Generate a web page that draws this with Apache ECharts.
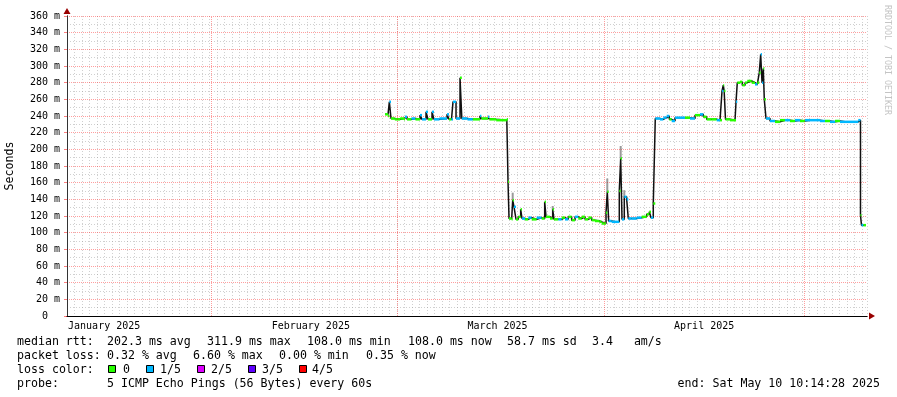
<!DOCTYPE html>
<html>
<head>
<meta charset="utf-8">
<script src="https://cdn.jsdelivr.net/npm/echarts@6/dist/echarts.min.js"></script>
<style>
  html, body { margin: 0; padding: 0; background: #fff; }
  #chart { width: 897px; height: 397px; }
</style>
</head>
<body>
<div id="chart"></div>
<script>
// x values are days since 2025-01-01 00:00 (graph spans 120 days, ends May 10 10:14)
const startDay = 9.427;
const endDay = 129.427;

const monthStarts = [31, 59, 90, 120];
const monthLabelDays = [15, 46, 74, 105];
const monthNames = ['January 2025', 'February 2025', 'March 2025', 'April 2025'];

// median rtt (ms) and loss bucket (0 = none, 1 = 1/5) per sample
const day = [
  57.13, 57.58, 57.78, 58.03, 58.60, 59.40, 59.98, 60.13, 60.43, 61.10,
  61.70, 62.38, 62.68, 63.28, 63.58, 64.18, 64.48, 65.30, 66.43, 66.73,
  67.10, 67.33, 67.78, 68.38, 68.65, 69.50, 70.30, 71.38, 71.58, 72.58,
  72.78, 73.80, 75.40, 75.58, 75.73,
  76.13, 76.28, 76.48, 76.78, 77.12, 77.48, 77.68, 78.13, 78.62, 79.13,
  79.88, 80.63, 81.08, 81.28, 81.88, 82.28, 82.48, 83.12, 83.63, 84.13,
  84.62, 85.13, 85.63, 86.12, 86.63, 87.13, 87.62, 88.13, 88.63, 89.27,
  89.63, 90.28, 90.47, 90.68, 91.13, 91.63, 92.27, 92.48, 92.68, 93.02,
  93.38, 93.62, 94.13, 94.88, 95.63, 96.38, 96.77, 97.03, 97.37,
  97.67, 98.38, 98.87, 99.38, 99.77, 100.13, 100.63, 101.38, 102.13, 102.88,
  103.63, 104.38, 104.87, 105.38, 106.13, 106.88, 107.38, 107.68, 107.87, 108.00,
  108.20, 108.88, 109.63, 109.78, 109.97, 110.38, 110.72, 111.13, 111.47, 112.13,
  112.63, 112.97, 113.27, 113.48, 113.68, 113.87, 114.02, 114.28, 114.88, 115.63,
  116.38, 117.13, 117.88, 118.63, 119.38, 120.13, 120.88, 121.63, 122.38, 123.13,
  123.88, 124.63, 125.38, 126.13, 126.88, 127.63, 128.12, 128.45, 128.60, 128.90,
  129.28
];
const median = [
  242, 240, 257, 237, 236, 237, 236, 239, 236, 237,
  236, 241, 236, 245, 236, 245, 236, 237, 242, 236,
  236, 257, 237, 286, 237, 236, 236, 240, 237, 239,
  236, 235, 236, 161, 117,
  116, 139, 131, 116, 119, 128, 117, 116, 118, 116,
  118, 117, 137, 119, 117, 128, 116, 116, 118, 116,
  119, 115, 119, 117, 119, 116, 118, 115, 114, 113,
  111, 124, 149, 114, 113, 113, 150, 189, 116, 143,
  140, 117, 117, 118, 119, 122, 125, 118, 135,
  237, 236, 238, 240, 236, 234, 238, 238, 238, 237,
  241, 242, 239, 236, 236, 235, 235, 270, 277, 270,
  236, 235, 235, 257, 280, 281, 277, 280, 282, 280,
  278, 280, 292, 314, 280, 297, 260, 237, 234, 233,
  235, 235, 234, 235, 234, 235, 235, 235, 234, 234,
  233, 234, 233, 233, 233, 233, 235, 121, 109, 109,
  109
];
const loss = [
  0, 0, 1, 0, 0, 0, 0, 1, 0, 1,
  0, 1, 1, 1, 0, 1, 1, 1, 1, 0,
  1, 1, 1, 0, 1, 1, 0, 1, 0, 1,
  0, 0, 0, 0, 0,
  0, 0, 1, 0, 0, 0, 1, 0, 1, 0,
  1, 0, 0, 0, 0, 0, 0, 1, 0, 1,
  0, 0, 1, 0, 0, 0, 0, 0, 0, 0,
  0, 0, 0, 1, 1, 1, 0, 0, 1, 1,
  1, 1, 1, 1, 0, 0, 0, 1, 0,
  1, 1, 1, 1, 0, 1, 1, 1, 0, 1,
  0, 1, 0, 0, 0, 1, 0, 1, 0, 0,
  0, 0, 0, 1, 0, 0, 0, 0, 0, 0,
  1, 0, 0, 1, 1, 0, 0, 1, 1, 0,
  0, 1, 0, 1, 0, 1, 1, 1, 1, 0,
  1, 0, 1, 1, 1, 1, 1, 0, 1, 0,
  1
];

// gray smoke above a few spikes
const smokeDay = [76.28, 82.28, 90.47, 92.48, 93.02];
const smokeLo = [139, 128, 149, 189, 143];
const smokeHi = [148, 132, 165, 204, 151];

const lossColors = ['#26ff00', '#00b8ff', '#dd00ff', '#5e00ff', '#ff0000'];
const lossLabels = ['0', '1/5', '2/5', '3/5', '4/5'];

const mono = '"DejaVu Sans Mono", monospace';
const majorGrid = { color: 'rgba(255,0,0,0.38)', type: [1, 1], width: 1 };
const minorGrid = { color: 'rgba(150,150,150,0.45)', type: [1, 2], width: 1 };

const stepData = day.map((d, i) => [d, median[i]]);
const segData = [];
for (let i = 0; i < day.length - 1; i++) {
  segData.push([day[i], median[i], day[i + 1], loss[i]]);
}
const smokeData = smokeDay.map((d, i) => [d, smokeLo[i], smokeHi[i]]);

function txt(text, x, y, extra) {
  return {
    type: 'text', x: x, y: y, silent: true,
    style: Object.assign({ text: text, font: '11.6px ' + mono, fill: '#000', verticalAlign: 'middle' }, extra || {})
  };
}

const graphic = [
  txt('median rtt:', 17, 342), txt('202.3 ms avg', 107, 342), txt('311.9 ms max', 207, 342),
  txt('108.0 ms min', 307, 342), txt('108.0 ms now', 408, 342), txt('58.7 ms sd', 507, 342),
  txt('3.4   am/s', 592, 342),
  txt('packet loss:', 17, 356), txt('0.32 % avg', 107, 356), txt('6.60 % max', 193, 356),
  txt('0.00 % min', 279, 356), txt('0.35 % now', 366, 356),
  txt('loss color:', 17, 370),
  txt('probe:', 17, 384), txt('5 ICMP Echo Pings (56 Bytes) every 60s', 107, 384),
  txt('end: Sat May 10 10:14:28 2025', 880, 384, { align: 'right' }),
  {
    type: 'text', x: 887, y: 5, rotation: -Math.PI / 2, silent: true,
    style: { text: 'RRDTOOL / TOBI OETIKER', font: '8.3px ' + mono, fill: '#c4c4c4', verticalAlign: 'middle' }
  }
];
const boxX = [108, 146, 197, 248, 299];
const labelX = [123, 160, 211, 262, 312];
lossColors.forEach((c, i) => {
  graphic.push({
    type: 'rect', silent: true,
    shape: { x: boxX[i] + 0.5, y: 365.5, width: 7, height: 7 },
    style: { fill: c, stroke: '#000', lineWidth: 1 }
  });
  graphic.push(txt(lossLabels[i], labelX[i], 370));
});

const chart = echarts.init(document.getElementById('chart'), null, { renderer: 'canvas' });
chart.setOption({
  animation: false,
  backgroundColor: '#fff',
  grid: { left: 67, top: 16, width: 800, height: 300, containLabel: false, outerBoundsMode: 'none' },
  xAxis: [
    {
      type: 'value', min: startDay, max: endDay, position: 'bottom', z: 3,
      axisLine: { show: true, lineStyle: { color: '#000', width: 1 } },
      axisTick: { show: false },
      splitLine: { show: false },
      axisLabel: {
        customValues: monthLabelDays,
        formatter: v => { const k = monthLabelDays.indexOf(v); return k < 0 ? '' : monthNames[k]; },
        fontFamily: mono, fontSize: 10, color: '#000', margin: 5
      }
    },
    {
      // minor vertical grid + arrow head
      type: 'value', min: 0, max: 120, interval: 1.125, position: 'bottom', offset: 0, z: 1,
      axisLine: {
        show: true, symbol: ['none', 'triangle'], symbolSize: [7, 6], symbolOffset: [0, 5],
        lineStyle: { color: '#990000', width: 1 }
      },
      axisTick: { show: false },
      axisLabel: { show: false },
      splitLine: { show: true, lineStyle: minorGrid }
    }
  ],
  yAxis: [
    {
      type: 'value', min: 0, max: 360, interval: 20, position: 'left', z: 3,
      name: 'Seconds', nameLocation: 'middle', nameGap: 51, nameRotate: 90,
      nameTextStyle: { fontFamily: mono, fontSize: 11.6, color: '#000' },
      axisLine: { show: true, lineStyle: { color: '#333', width: 1 } },
      axisTick: { show: true, length: 3, lineStyle: { color: 'rgba(255,0,0,0.5)' } },
      axisLabel: {
        formatter: v => (v === 0 ? '0  ' : v + ' m'),
        fontFamily: mono, fontSize: 10, color: '#000', margin: 7
      },
      splitLine: { show: true, lineStyle: majorGrid },
      minorTick: { show: false, splitNumber: 2 },
      minorSplitLine: { show: true, lineStyle: minorGrid }
    },
    {
      type: 'value', min: 0, max: 360, position: 'left', offset: 0, z: 1,
      axisLine: {
        show: true, symbol: ['none', 'triangle'], symbolSize: [7, 6], symbolOffset: [0, 5],
        lineStyle: { color: '#990000', width: 1 }
      },
      axisTick: { show: false },
      axisLabel: { show: false },
      splitLine: { show: false }
    }
  ],
  series: [
    {
      type: 'custom', name: 'smoke', xAxisIndex: 0, yAxisIndex: 0, z: 2, silent: true,
      data: smokeData,
      encode: { x: 0, y: [1, 2] },
      renderItem: (params, api) => {
        const a = api.coord([api.value(0), api.value(1)]);
        const b = api.coord([api.value(0), api.value(2)]);
        return { type: 'line', shape: { x1: a[0], y1: a[1], x2: b[0], y2: b[1] }, style: { stroke: '#9a9a9a', lineWidth: 2 } };
      },
      markLine: {
        silent: true, symbol: 'none', label: { show: false },
        lineStyle: majorGrid,
        data: monthStarts.map(d => ({ xAxis: d }))
      }
    },
    {
      type: 'line', name: 'median', xAxisIndex: 0, yAxisIndex: 0, z: 3,
      step: 'end', showSymbol: false, symbol: 'none',
      lineStyle: { color: '#111', width: 1.5 },
      data: stepData
    },
    {
      type: 'custom', name: 'loss', xAxisIndex: 0, yAxisIndex: 0, z: 4, silent: true,
      data: segData,
      encode: { x: [0, 2], y: 1 },
      renderItem: (params, api) => {
        const a = api.coord([api.value(0), api.value(1)]);
        const b = api.coord([api.value(2), api.value(1)]);
        return {
          type: 'line', shape: { x1: a[0], y1: a[1], x2: b[0], y2: b[1] },
          style: { stroke: lossColors[api.value(3)], lineWidth: 2.5 }
        };
      }
    }
  ],
  graphic: graphic
});
</script>
</body>
</html>
